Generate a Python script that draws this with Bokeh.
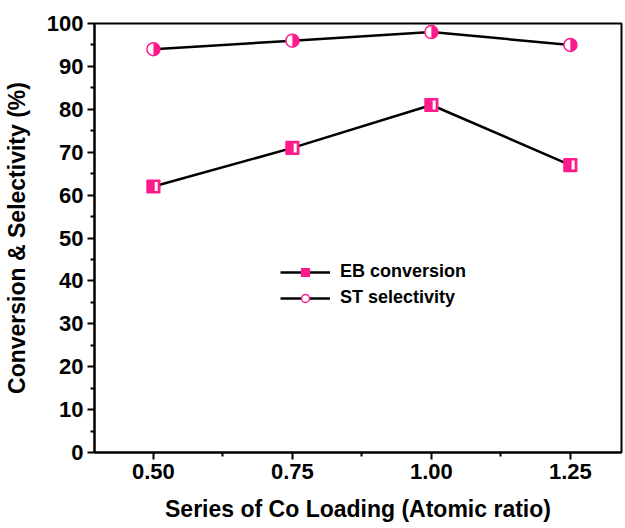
import math
from bokeh.plotting import figure
from bokeh.models import (Range1d, FixedTicker, PrintfTickFormatter, Legend, LegendItem,
                          ColumnDataSource)
from bokeh.transform import dodge
from bokeh.embed import file_html
from bokeh.resources import INLINE

co_loading = [0.50, 0.75, 1.00, 1.25]
eb_conversion = [62, 71, 81, 67]
st_selectivity = [94, 96, 98, 95]
x_ticks = [0.50, 0.75, 1.00, 1.25]
y_ticks = [0, 10, 20, 30, 40, 50, 60, 70, 80, 90, 100]

PINK = "#FF1A8C"
FONT = "Liberation Sans"

p = figure(width=625, height=528, output_backend="svg", toolbar_location=None,
           x_range=Range1d(0.394, 1.342), y_range=Range1d(0, 100),
           min_border_left=93, min_border_right=4, min_border_top=23, min_border_bottom=76)
p.xgrid.visible = False
p.ygrid.visible = False
p.outline_line_color = "black"
p.outline_line_width = 2
p.background_fill_color = "white"
p.border_fill_color = "white"

src_eb = ColumnDataSource(dict(x=co_loading, y=eb_conversion))
src_st = ColumnDataSource(dict(x=co_loading, y=st_selectivity))

l1 = p.line("x", "y", source=src_eb, line_color="black", line_width=2.5)
s1 = p.scatter("x", "y", source=src_eb, marker="square", size=13, fill_color=PINK,
               line_color=PINK, line_width=1.2)
s1b = p.rect(x=dodge("x", 0.005, range=p.x_range), y="y", source=src_eb, width=3, height=9,
             width_units="screen", height_units="screen", fill_color="white", line_color=None)

l2 = p.line("x", "y", source=src_st, line_color="black", line_width=2.5)
s2 = p.scatter("x", "y", source=src_st, marker="circle", size=13, fill_color="white",
               line_color=PINK, line_width=1.5)
s2b = p.wedge("x", "y", source=src_st, radius=6.5, radius_units="screen",
              start_angle=-math.pi / 2, end_angle=math.pi / 2, fill_color=PINK, line_color=None)

legend = Legend(items=[LegendItem(label="EB conversion", renderers=[l1, s1]),
                       LegendItem(label="ST selectivity", renderers=[l2, s2])],
                location=(186, 144), border_line_color=None, background_fill_alpha=0,
                label_text_font=FONT, label_text_font_size="18px", label_text_font_style="bold",
                label_text_color="black",
                glyph_width=50, glyph_height=20, spacing=5, padding=4, label_standoff=10)
p.add_layout(legend, "center")

for ax in (p.xaxis[0], p.yaxis[0]):
    ax.axis_line_width = 2
    ax.major_tick_line_width = 2
    ax.minor_tick_line_width = 2
    ax.major_tick_out = 7
    ax.major_tick_in = 0
    ax.minor_tick_out = 4
    ax.minor_tick_in = 0
    ax.major_label_text_font = FONT
    ax.major_label_text_font_size = "22px"
    ax.major_label_text_font_style = "bold"
    ax.major_label_text_color = "black"
    ax.axis_label_text_font = FONT
    ax.axis_label_text_font_size = "23px"
    ax.axis_label_text_font_style = "bold"
    ax.axis_label_text_color = "black"

p.xaxis.ticker = FixedTicker(ticks=x_ticks, minor_ticks=[0.625, 0.875, 1.125])
p.xaxis.formatter = PrintfTickFormatter(format="%.2f")
p.xaxis.axis_label = "Series of Co Loading (Atomic ratio)"
p.xaxis.major_label_standoff = 4
p.xaxis.axis_label_standoff = 14

p.yaxis.ticker = FixedTicker(ticks=y_ticks, minor_ticks=[5, 15, 25, 35, 45, 55, 65, 75, 85, 95])
p.yaxis.axis_label = "Conversion & Selectivity (%)"
p.yaxis.major_label_standoff = 4
p.yaxis.axis_label_standoff = 14

open("out.html", "w").write(file_html(p, INLINE))
